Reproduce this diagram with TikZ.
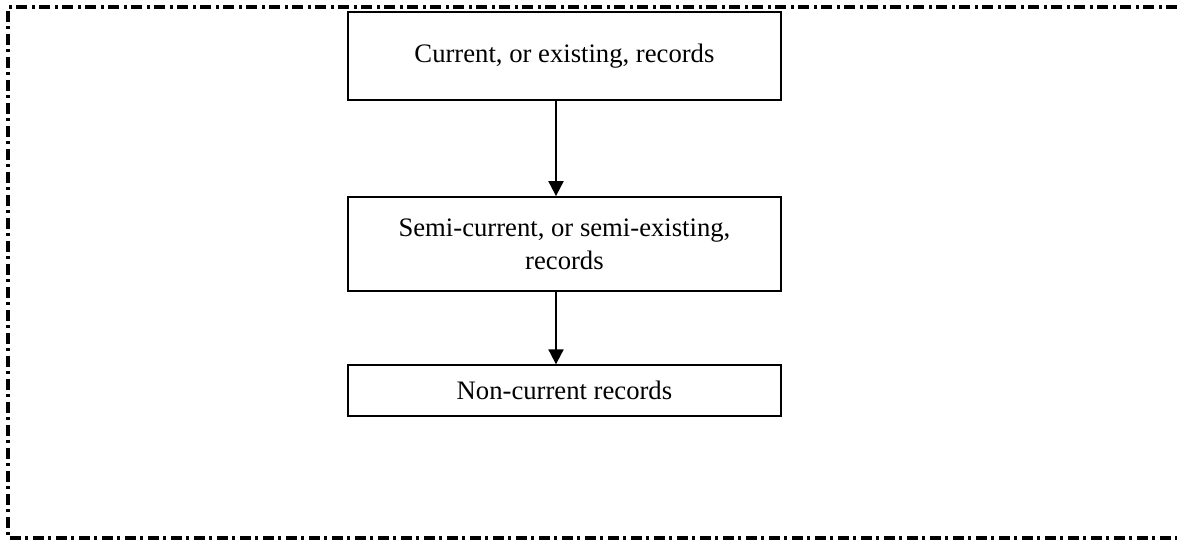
\documentclass[tikz,border=0pt,12pt]{standalone}
\usepackage{fontspec}
\setmainfont{Liberation Serif}
\usepackage{tikz}
\usetikzlibrary{arrows.meta, positioning}

\begin{document}
\begin{tikzpicture}[>={Triangle[width=6.75pt,length=6.75pt]}, line width=0.9pt, node distance=42.8pt,
    block/.style={draw, rectangle, minimum width=194.85pt, align=center, inner sep=2pt},
    frame/.style={line width=1.45pt, dash pattern=on 4.95pt off 1.8pt on 1.5pt off 2.1pt}]
\useasboundingbox (0,0) rectangle (529.65pt,-243pt);
% dash-dot frame, open on the right
\draw[frame] (529.65pt,-3.15pt) -- (3.6pt,-3.15pt) -- (3.6pt,-242.1pt) -- (529.65pt,-242.1pt);
\node[block, minimum height=39.6pt] (cur) at (254pt,-25.2pt) {Current, or existing, records};
\node[block, minimum height=42.4pt, below=of cur] (semi) {Semi-current, or semi-existing,\\records};
\node[block, minimum height=22.95pt, below=32.4pt of semi] (noncur) {Non-current records};
\draw[->] ([xshift=-3.8pt]cur.south) -- ([xshift=-3.8pt]semi.north);
\draw[->] ([xshift=-3.8pt]semi.south) -- ([xshift=-3.8pt]noncur.north);
\end{tikzpicture}
\end{document}
